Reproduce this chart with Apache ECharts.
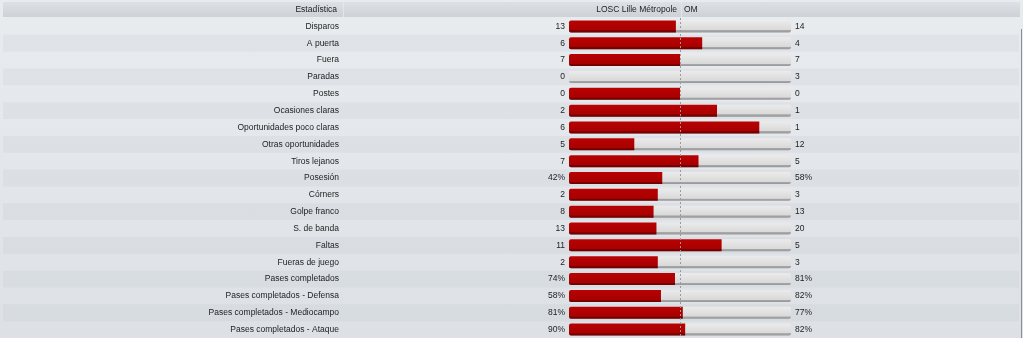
<!DOCTYPE html>
<html>
<head>
<meta charset="utf-8">
<script src="https://cdn.jsdelivr.net/npm/echarts@6/dist/echarts.min.js"></script>
<style>
  html, body { margin: 0; padding: 0; }
  body { background: linear-gradient(#e9ecef, #dde1e6); }
  #chart { width: 1023px; height: 338px; }
</style>
</head>
<body>
<div id="chart"></div>
<script>
// Match statistics: LOSC Lille Métropole vs OM
const stats = [
  'Disparos', 'A puerta', 'Fuera', 'Paradas', 'Postes', 'Ocasiones claras',
  'Oportunidades poco claras', 'Otras oportunidades', 'Tiros lejanos', 'Posesión',
  'Córners', 'Golpe franco', 'S. de banda', 'Faltas', 'Fueras de juego',
  'Pases completados', 'Pases completados - Defensa', 'Pases completados - Mediocampo',
  'Pases completados - Ataque'
];
const homeValues = [13, 6, 7, 0, 0, 2, 6, 5, 7, 42, 2, 8, 13, 11, 2, 74, 58, 81, 90];
const awayValues = [14, 4, 7, 3, 0, 1, 1, 12, 5, 58, 3, 13, 20, 5, 3, 81, 82, 77, 82];
const percentRows = ['Posesión', 'Pases completados', 'Pases completados - Defensa',
  'Pases completados - Mediocampo', 'Pases completados - Ataque'];
const headers = { stat: 'Estadística', home: 'LOSC Lille Métropole', away: 'OM' };

// Home share of each statistic (an even split when both sides are zero)
const homeShare = homeValues.map((h, i) => {
  const total = h + awayValues[i];
  return total === 0 ? 0.5 : h / total;
});
const fmt = (v, i) => v + (percentRows.includes(stats[i]) ? '%' : '');

const FONT = '"Liberation Sans", Arial, sans-serif';
const FS = 8.5;
const chart = echarts.init(document.getElementById('chart'));

const BAR_LEFT = 569, BAR_WIDTH = 222, TOP = 18, ROWS_H = 320;

chart.setOption({
  backgroundColor: 'transparent',
  animation: false,
  textStyle: { fontFamily: FONT },
  grid: [
    { left: BAR_LEFT, width: BAR_WIDTH, top: TOP, height: ROWS_H },
    { left: 3, right: 4, top: TOP, height: ROWS_H }
  ],
  xAxis: [
    { type: 'value', min: 0, max: 1, show: false, gridIndex: 0 },
    { type: 'value', min: 0, max: 1, show: false, gridIndex: 1 }
  ],
  yAxis: [
    {
      type: 'category', data: stats, inverse: true, gridIndex: 0,
      axisLine: { show: false }, axisTick: { show: false },
      axisLabel: { margin: 230, fontSize: FS, color: '#222', fontFamily: FONT }
    },
    {
      type: 'category', data: stats, inverse: true, gridIndex: 1,
      axisLine: { show: false }, axisTick: { show: false }, axisLabel: { show: false },
      splitArea: { show: true, areaStyle: { color: ['rgba(0,0,0,0)', 'rgba(40,60,85,0.035)'] } }
    }
  ],
  graphic: [
    {
      type: 'rect', shape: { x: 3, y: 2, width: 1017, height: 15 }, z: 0,
      style: { fill: new echarts.graphic.LinearGradient(0, 0, 0, 1, [
        { offset: 0, color: '#dde1e5' }, { offset: 1, color: '#cdd2d7' }]) }
    },
    { type: 'line', shape: { x1: 343.5, y1: 2, x2: 343.5, y2: 17 }, style: { stroke: '#e4e7ea', lineWidth: 1 } },
    { type: 'line', shape: { x1: 681.5, y1: 2, x2: 681.5, y2: 17 }, style: { stroke: '#e4e7ea', lineWidth: 1 } },
    { type: 'line', shape: { x1: 1021.5, y1: 29, x2: 1021.5, y2: 338 }, style: { stroke: '#8c9096', lineWidth: 1 } },
    { type: 'text', x: 337, y: 9.5, style: { text: headers.stat, align: 'right', verticalAlign: 'middle', font: FS + 'px ' + FONT, fill: '#222' } },
    { type: 'text', x: 677, y: 9.5, style: { text: headers.home, align: 'right', verticalAlign: 'middle', font: FS + 'px ' + FONT, fill: '#222' } },
    { type: 'text', x: 684, y: 9.5, style: { text: headers.away, align: 'left', verticalAlign: 'middle', font: FS + 'px ' + FONT, fill: '#222' } }
  ],
  series: [
    {
      // grey track across the full width, carrying the away value on its right
      type: 'bar', xAxisIndex: 0, yAxisIndex: 0, z: 1,
      data: stats.map(() => 1), barWidth: 12, barGap: '-100%',
      itemStyle: {
        borderRadius: 2,
        color: new echarts.graphic.LinearGradient(0, 0, 0, 1, [
          { offset: 0, color: '#ebebeb' }, { offset: 0.8, color: '#d9d9d9' },
          { offset: 0.83, color: '#a8a8a8' }, { offset: 1, color: '#979797' }])
      },
      label: {
        show: true, position: 'right', distance: 4, fontSize: FS, color: '#222',
        formatter: p => fmt(awayValues[p.dataIndex], p.dataIndex)
      }
    },
    {
      // centre reference line
      type: 'line', xAxisIndex: 0, yAxisIndex: 0, z: 2, data: [],
      markLine: {
        silent: true, symbol: 'none', label: { show: false },
        lineStyle: { color: '#9a9a9a', type: [2, 2], width: 1 },
        data: [{ xAxis: 0.5 }]
      }
    },
    {
      // home share, carrying the home value on its left
      type: 'bar', xAxisIndex: 0, yAxisIndex: 0, z: 3,
      data: homeShare, barWidth: 12, barGap: '-100%',
      itemStyle: {
        borderRadius: [2, 0, 0, 2],
        color: new echarts.graphic.LinearGradient(0, 0, 0, 1, [
          { offset: 0, color: '#b80202' }, { offset: 0.8, color: '#a80000' },
          { offset: 0.84, color: '#7e0000' }, { offset: 1, color: '#6e0000' }])
      },
      label: {
        show: true, position: 'left', distance: 4, fontSize: FS, color: '#222',
        formatter: p => fmt(homeValues[p.dataIndex], p.dataIndex)
      }
    }
  ]
});
</script>
</body>
</html>
